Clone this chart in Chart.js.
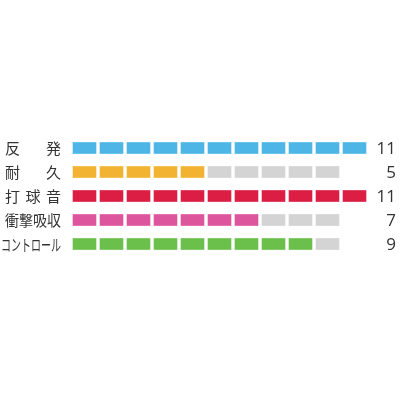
<!DOCTYPE html>
<html>
<head>
<meta charset="utf-8">
<script src="https://cdn.jsdelivr.net/npm/chart.js@4"></script>
<style>
  html, body { margin: 0; padding: 0; background: #fff; }
  #wrap { width: 400px; height: 400px; }
</style>
</head>
<body>
<div id="wrap"><canvas id="ratingChart"></canvas></div>
<script>
// rating data
const categories = ['反発', '耐久', '打球音', '衝撃吸収', 'コントロール'];
const scores = [11, 5, 11, 7, 9];
const maxScores = [11, 10, 11, 10, 10];
const scoreLabels = ['11', '5', '11', '7', '9'];
const rowColors = ['#4db6e6', '#f3b332', '#dc1d44', '#dd559d', '#6bc04b'];
const emptyColor = '#d4d4d4';
const blockCount = 11;

// one dataset per block position, each block is a floating bar
const datasets = [];
for (let i = 0; i < blockCount; i++) {
    datasets.push({
        data: categories.map((c, r) => i < maxScores[r] ? [i + 0.075, i + 0.925] : null),
        backgroundColor: categories.map((c, r) => i < scores[r] ? rowColors[r] : emptyColor),
        borderWidth: 0,
        barThickness: 11,
        grouped: false
    });
}

// labels left (justified) and scores right
const sideLabels = {
    id: 'sideLabels',
    afterDraw(chart) {
        const ctx = chart.ctx;
        const y = chart.scales.y;
        ctx.save();
        ctx.fillStyle = '#333';
        ctx.textBaseline = 'middle';
        const right = 61;
        categories.forEach((text, r) => {
            const py = y.getPixelForValue(r) + 0.5;
            const chars = Array.from(text);
            ctx.textAlign = 'left';
            if (chars.length > 4) {
                // long label: squeeze horizontally, keep full height
                ctx.font = '16px "Noto Sans CJK JP"';
                ctx.fillText(text, 1, py, right - 1);
                return;
            }
            const left = 5;
            ctx.font = '15px "Noto Sans CJK JP"';
            const w = ctx.measureText(text).width;
            if (w >= right - left) {
                ctx.fillText(text, left, py, right - left);
            } else {
                const cw = chars.map(ch => ctx.measureText(ch).width);
                const gap = (right - left - cw.reduce((a, b) => a + b, 0)) / (chars.length - 1);
                let x = left;
                chars.forEach((ch, k) => {
                    ctx.fillText(ch, x, py);
                    x += cw[k] + gap;
                });
            }
        });
        ctx.font = '17px "Open Sans"';
        ctx.textAlign = 'right';
        scoreLabels.forEach((t, r) => {
            ctx.fillText(t, 396, y.getPixelForValue(r) + 1);
        });
        ctx.restore();
    }
};

new Chart(document.getElementById('ratingChart').getContext('2d'), {
    type: 'bar',
    data: { labels: categories, datasets: datasets },
    options: {
        indexAxis: 'y',
        responsive: true,
        maintainAspectRatio: false,
        animation: false,
        layout: { padding: { left: 71, right: 32, top: 136, bottom: 144 } },
        plugins: { legend: { display: false }, tooltip: { enabled: false } },
        scales: {
            x: { min: 0, max: blockCount, display: false },
            y: { display: false }
        }
    },
    plugins: [sideLabels]
});
</script>
</body>
</html>
